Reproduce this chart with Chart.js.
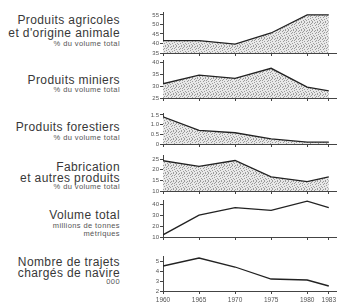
<!DOCTYPE html>
<html><head><meta charset="utf-8">
<script src="https://cdn.jsdelivr.net/npm/chart.js@4/dist/chart.umd.min.js"></script>
<style>
html,body{margin:0;padding:0;background:#fff;}
body{width:350px;height:306px;position:relative;overflow:hidden;font-family:"Liberation Sans",Arial,sans-serif;color:#383838;}
.t{position:absolute;right:230px;white-space:nowrap;text-align:right;line-height:1;}
.b{font-size:12px;letter-spacing:0.4px;}
.s{font-size:7.5px;letter-spacing:0.4px;color:#555;}
canvas{position:absolute;}
</style></head><body>
<div class="t b" style="top:14px">Produits agricoles</div>
<div class="t b" style="top:27px">et d'origine animale</div>
<div class="t s" style="top:40px">% du volume total</div>
<div class="t b" style="top:74px">Produits miniers</div>
<div class="t s" style="top:86px">% du volume total</div>
<div class="t b" style="top:121px">Produits forestiers</div>
<div class="t s" style="top:134px">% du volume total</div>
<div class="t b" style="top:161px">Fabrication</div>
<div class="t b" style="top:172px">et autres produits</div>
<div class="t s" style="top:183px">% du volume total</div>
<div class="t b" style="top:209px">Volume total</div>
<div class="t s" style="top:222px">millions de tonnes</div>
<div class="t s" style="top:230px">métriques</div>
<div class="t b" style="top:256px">Nombre de trajets</div>
<div class="t b" style="top:267px">chargés de navire</div>
<div class="t s" style="top:278px">000</div>
<script>
const years = [1960, 1965, 1970, 1975, 1980, 1983];
const agricoles = [41.5, 41.5, 39.7, 45.5, 55, 55];
const miniers = [31, 34.6, 33.3, 37.5, 29.6, 28];
const forestiers = [1.4, 0.7, 0.58, 0.26, 0.1, 0.1];
const fabrication = [24.3, 21.6, 24.4, 16.7, 14.4, 16.7];
const volume = [12, 30, 37, 34.5, 43, 37];
const trajets = [4.5, 5.3, 4.4, 3.2, 3.1, 2.5];

const ticksAgricoles = [35, 40, 45, 50, 55];
const ticksMiniers = [25, 30, 35, 40];
const ticksForestiers = [0, 0.5, 1.0, 1.5];
const ticksFabrication = [10, 15, 20, 25];
const ticksVolume = [10, 20, 30, 40];
const ticksTrajets = [2, 3, 4, 5];

// stipple pattern (fixed irregular dot layout on an 8x8 tile)
function makePattern() {
  const c = document.createElement('canvas');
  c.width = 8; c.height = 8;
  const g = c.getContext('2d');
  g.fillStyle = '#e8e8e8'; g.fillRect(0, 0, 8, 8);
  g.fillStyle = '#9c9c9c';
  [[0,0],[5,0],[2,1],[7,1],[4,2],[0,3],[3,3],[6,4],[1,5],[4,5],[7,6],[2,6],[5,7],[0,7],[6,2],[3,0]]
    .forEach(p => g.fillRect(p[0], p[1], 1, 1));
  return g.createPattern(c, 'repeat');
}
const pattern = makePattern();

const panels = [
  {data: agricoles, ticks: ticksAgricoles, min: 35, max: 56.5, top: 12, bottom: 53, fill: true},
  {data: miniers, ticks: ticksMiniers, min: 25, max: 41, top: 60, bottom: 98, fill: true},
  {data: forestiers, ticks: ticksForestiers, min: 0, max: 1.6, top: 113, bottom: 144, fill: true, fmt: v => v === 0 ? '0' : v.toFixed(1)},
  {data: fabrication, ticks: ticksFabrication, min: 10, max: 27, top: 155, bottom: 191, fill: true},
  {data: volume, ticks: ticksVolume, min: 10, max: 44, top: 200, bottom: 237, fill: false},
  {data: trajets, ticks: ticksTrajets, min: 2, max: 5.5, top: 256, bottom: 291, fill: false, last: true}
];

const FAM = '"Liberation Sans", Arial, sans-serif';
const LEFT = 120, AXW = 43, PADT = 6, PADB = 1, W = 230;

panels.forEach(p => {
  const xh = p.last ? 16 : 4;
  const h = (p.bottom - p.top) + PADT + xh + PADB;
  const cv = document.createElement('canvas');
  cv.width = W; cv.height = h;
  cv.style.left = LEFT + 'px'; cv.style.top = (p.top - PADT) + 'px';
  cv.style.width = W + 'px'; cv.style.height = h + 'px';
  document.body.appendChild(cv);
  new Chart(cv, {
    type: 'line',
    data: {datasets: [{
      data: years.map((y, i) => ({x: y, y: p.data[i]})),
      borderColor: '#222', borderWidth: 1.3, pointRadius: 0, tension: 0,
      fill: p.fill ? 'start' : false, backgroundColor: pattern
    }]},
    options: {
      responsive: false, animation: false, devicePixelRatio: 1,
      layout: {padding: {top: PADT, bottom: PADB, left: 0, right: 14}},
      plugins: {legend: {display: false}, tooltip: {enabled: false}},
      scales: {
        x: {type: 'linear', min: 1960, max: 1984,
          afterBuildTicks: s => { s.ticks = years.map(v => ({value: v})); },
          afterFit: s => { s.height = xh; },
          border: {display: true, dash: [1, 1], color: '#444', width: 1},
          grid: {drawOnChartArea: false, drawTicks: true, tickLength: 3, color: '#444'},
          ticks: {display: !!p.last, maxRotation: 0, autoSkip: false, padding: 2,
            font: {size: 6.5, family: FAM}, color: '#555', callback: v => String(v)}
        },
        y: {min: p.min, max: p.max,
          afterBuildTicks: s => { s.ticks = p.ticks.map(v => ({value: v})); },
          afterFit: s => { s.width = AXW; },
          border: {display: true, dash: [1, 1], color: '#444', width: 1},
          grid: {drawOnChartArea: false, drawTicks: true, tickLength: 3, color: '#444'},
          ticks: {padding: 1, font: {size: 6, family: FAM}, color: '#555',
            callback: p.fmt || (v => String(v))}
        }
      }
    }
  });
});
</script>
</body></html>
